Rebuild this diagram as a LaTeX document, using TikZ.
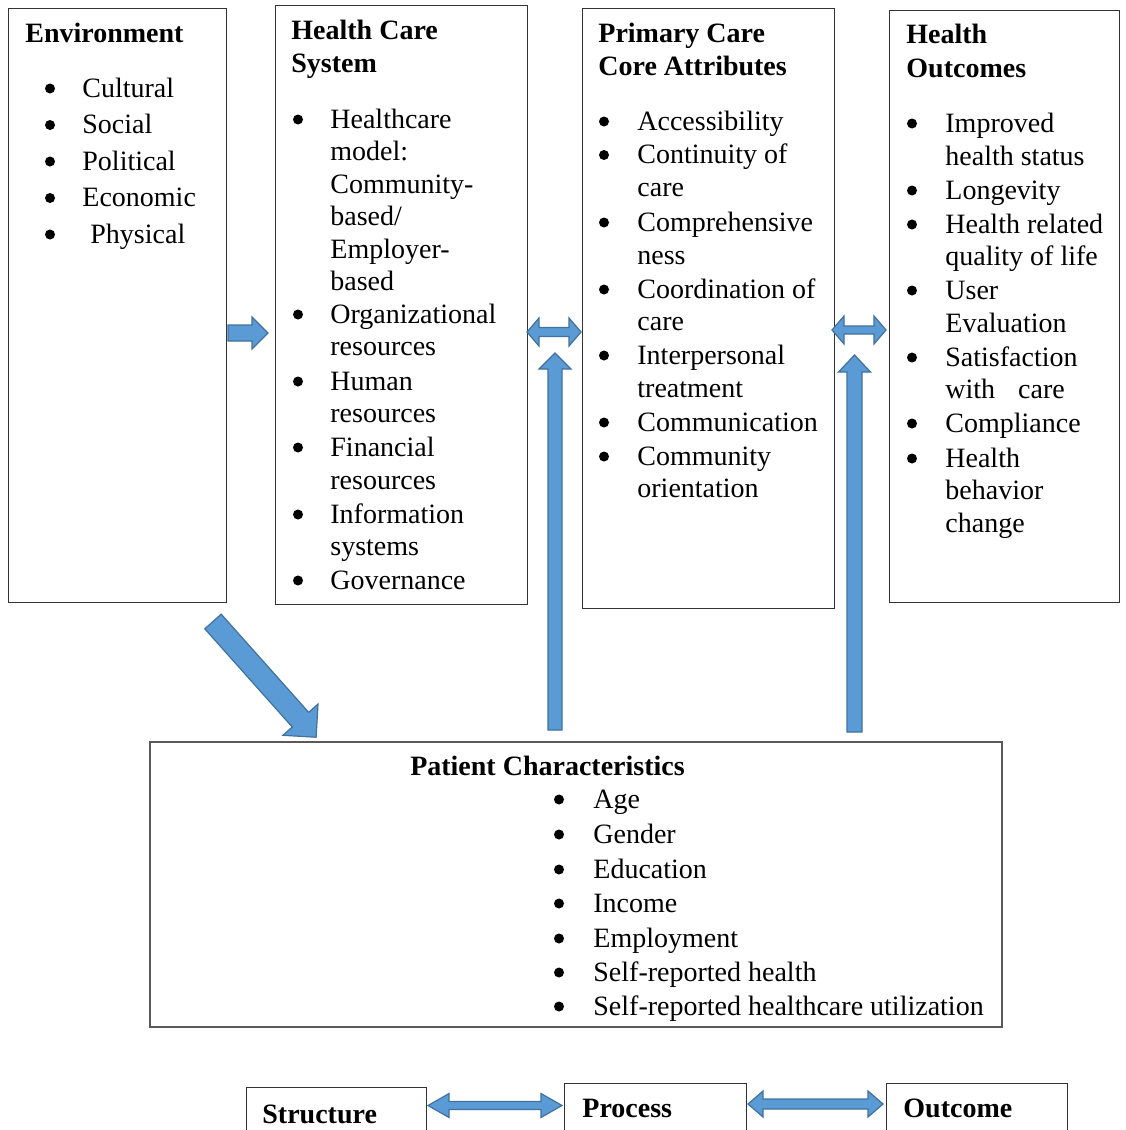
\documentclass[tikz,border=0pt]{standalone}
\usepackage{fontspec}
\setmainfont{Liberation Serif}
\definecolor{arrowfill}{RGB}{91,155,213}
\definecolor{arrowdraw}{RGB}{65,113,156}
\tikzset{
  txt/.style={anchor=base west, inner sep=0pt, font=\fontsize{14}{16}\selectfont},
  ttl/.style={anchor=base west, inner sep=0pt, font=\fontsize{14}{16}\selectfont\bfseries},
  box/.style={draw=black!80, line width=0.6pt, anchor=north west, inner sep=0pt},
  barrow/.style={fill=arrowfill, draw=arrowdraw, line width=0.6pt, line join=miter},
  pics/sarrow/.style args={#1/#2/#3/#4}{code={
    \draw[barrow] (0,-#3) -- ({#1-#2},-#3) -- ({#1-#2},-#4) -- (#1,0) -- ({#1-#2},#4) -- ({#1-#2},#3) -- (0,#3) -- cycle;}},
  pics/darrow/.style args={#1/#2/#3/#4}{code={
    \draw[barrow] (0,0) -- (#2,-#4) -- (#2,-#3) -- ({#1-#2},-#3) -- ({#1-#2},-#4) -- (#1,0) -- ({#1-#2},#4) -- ({#1-#2},#3) -- (#2,#3) -- (#2,#4) -- cycle;}},
}
\newcommand\bul[2]{\fill (#1,#2-8.5) circle[radius=5];}
\begin{document}
\begin{tikzpicture}[x=0.5pt,y=-0.5pt]
\useasboundingbox (0,0) rectangle (1125,1130);
\clip (0,0) rectangle (1125,1130);
\fill[white] (0,0) rectangle (1125,1130);

% boxes
\node[box, minimum width=109pt, minimum height=297pt] (env) at (8,8) {};
\node[box, minimum width=126pt, minimum height=299.5pt] (hcs) at (275,5) {};
\node[box, minimum width=126pt, minimum height=300pt] (pc) at (582,8) {};
\node[box, minimum width=115pt, minimum height=296pt] (ho) at (889,10) {};
\node[box, draw=black!65, line width=0.9pt, minimum width=426pt, minimum height=142.5pt] (pt) at (149,741) {};
\node[box, minimum width=90pt, minimum height=30pt] (st) at (246,1087) {};
\node[box, minimum width=91pt, minimum height=32pt] (pr) at (564,1083) {};
\node[box, minimum width=90.5pt, minimum height=32pt] (oc) at (886,1083) {};

% Environment
\node[ttl] (envt) at (25,42) {Environment};
\node[txt] (e1) at (82,97) {Cultural};      \bul{50}{97}
\node[txt] (e2) at (82,133.5) {Social};     \bul{50}{133.5}
\node[txt] (e3) at (82,170) {Political};    \bul{50}{170}
\node[txt] (e4) at (82,206.5) {Economic};   \bul{50}{206.5}
\node[txt] (e5) at (90,243) {Physical};     \bul{50}{243}

% Health Care System
\node[ttl] (hcst1) at (291,39) {Health Care};
\node[ttl] (hcst2) at (291,72) {System};
\node[txt] (h1) at (330,128) {Healthcare}; \bul{298}{128}
\node[txt] (h2) at (330,160.5) {model:};
\node[txt] (h3) at (330,193) {Community-};
\node[txt] (h4) at (330,225.5) {based/};
\node[txt] (h5) at (330,258) {Employer-};
\node[txt] (h6) at (330,290) {based};
\node[txt] (h7) at (330,323) {Organizational}; \bul{298}{323}
\node[txt] (h8) at (330,355.5) {resources};
\node[txt] (h9) at (330,390) {Human}; \bul{298}{390}
\node[txt] (h10) at (330,422) {resources};
\node[txt] (h11) at (330,456) {Financial}; \bul{298}{456}
\node[txt] (h12) at (330,489) {resources};
\node[txt] (h13) at (330,523) {Information}; \bul{298}{523}
\node[txt] (h14) at (330,555.5) {systems};
\node[txt] (h15) at (330,589) {Governance}; \bul{298}{589}

% Primary Care Core Attributes
\node[ttl] (pct1) at (598,42) {Primary Care};
\node[ttl] (pct2) at (598,75) {Core Attributes};
\node[txt] (p1) at (637,130) {Accessibility}; \bul{604}{130}
\node[txt] (p2) at (637,163.5) {Continuity of}; \bul{604}{163.5}
\node[txt] (p3) at (637,196) {care};
\node[txt] (p4) at (637,231) {Comprehensive}; \bul{604}{231}
\node[txt] (p5) at (637,264) {ness};
\node[txt] (p6) at (637,298) {Coordination of}; \bul{604}{298}
\node[txt] (p7) at (637,330) {care};
\node[txt] (p8) at (637,364) {Interpersonal}; \bul{604}{364}
\node[txt] (p9) at (637,397) {treatment};
\node[txt] (p10) at (637,431) {Communication}; \bul{604}{431}
\node[txt] (p11) at (637,465) {Community}; \bul{604}{465}
\node[txt] (p12) at (637,497) {orientation};

% Health Outcomes
\node[ttl] (hot1) at (906,43) {Health};
\node[ttl] (hot2) at (906,77) {Outcomes};
\node[txt] (o1) at (945,132) {Improved}; \bul{912}{132}
\node[txt] (o2) at (945,165) {health status};
\node[txt] (o3) at (945,199) {Longevity}; \bul{912}{199}
\node[txt] (o4) at (945,233) {Health related}; \bul{912}{233}
\node[txt] (o5) at (945,265) {quality of life};
\node[txt] (o6) at (945,299) {User}; \bul{912}{299}
\node[txt] (o7) at (945,332) {Evaluation};
\node[txt] (o8) at (945,366) {Satisfaction}; \bul{912}{366}
\node[txt] (o9) at (945,398) {with\hspace{11.5pt}care};
\node[txt] (o10) at (945,432) {Compliance}; \bul{912}{432}
\node[txt] (o11) at (945,467) {Health}; \bul{912}{467}
\node[txt] (o12) at (945,499) {behavior};
\node[txt] (o13) at (945,532) {change};

% Patient Characteristics
\node[ttl, anchor=base] (ptt) at (547.5,775) {Patient Characteristics};
\node[txt] (c1) at (593,808) {Age}; \bul{559}{808}
\node[txt] (c2) at (593,843) {Gender}; \bul{559}{843}
\node[txt] (c3) at (593,878) {Education}; \bul{559}{878}
\node[txt] (c4) at (593,912) {Income}; \bul{559}{912}
\node[txt] (c5) at (593,947) {Employment}; \bul{559}{947}
\node[txt] (c6) at (593,981) {Self-reported health}; \bul{559}{981}
\node[txt] (c7) at (593,1015) {Self-reported healthcare utilization}; \bul{559}{1015}

% bottom labels
\node[ttl] (stt) at (262,1123) {Structure};
\node[ttl] (prt) at (582,1117) {Process};
\node[ttl] (oct) at (903,1117) {Outcome};

% block arrows
\pic (a1) at (228,333) {sarrow=40/16/8/16};
\pic (a2) at (527,332) {darrow=54/12/4.5/14};
\pic[rotate=90] (a3) at (555,730) {sarrow=377/16/7/16};
\pic (a4) at (832,330) {darrow=54/12/4/14};
\pic[rotate=90] (a5) at (854.5,732) {sarrow=377/17/7.5/16};
\pic[rotate=-48.3] (a6) at (213,621.5) {sarrow=155/23.5/11/23.5};
\pic (a7) at (428,1105.5) {darrow=134/21/4/12};
\pic (a8) at (748,1104) {darrow=135/15/5/13};
\end{tikzpicture}
\end{document}
